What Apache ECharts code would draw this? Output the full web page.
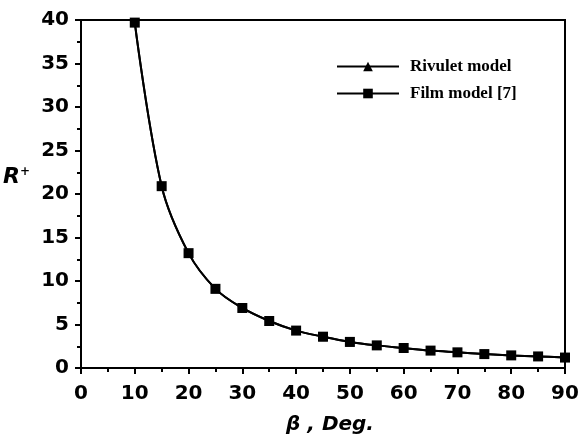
<!DOCTYPE html>
<html>
<head>
<meta charset="utf-8">
<script src="https://cdn.jsdelivr.net/npm/echarts@6/dist/echarts.min.js"></script>
<style>
  html, body { margin: 0; padding: 0; background: #fff; }
  #chart { width: 578px; height: 441px; }
</style>
</head>
<body>
<div id="chart"></div>
<script>
const beta = [10, 15, 20, 25, 30, 35, 40, 45, 50, 55, 60, 65, 70, 75, 80, 85, 90];
const rivulet = [39.7, 20.9, 13.2, 9.1, 6.9, 5.4, 4.3, 3.6, 3.0, 2.6, 2.3, 2.0, 1.8, 1.6, 1.45, 1.33, 1.2];
const film = [39.7, 20.9, 13.2, 9.1, 6.9, 5.4, 4.3, 3.6, 3.0, 2.6, 2.3, 2.0, 1.8, 1.6, 1.45, 1.33, 1.2];

const chart = echarts.init(document.getElementById('chart'));

const tickFont = {
  color: '#000',
  fontFamily: 'DejaVu Sans',
  fontWeight: 'bold',
  fontSize: 20
};

const option = {
  animation: false,
  grid: {
    left: 81, right: 13, top: 20, bottom: 73,
    outerBoundsMode: 'none', containLabel: false,
    show: true, borderColor: '#000', borderWidth: 2
  },
  legend: {
    left: 336, top: 58, orient: 'vertical', padding: 0,
    itemWidth: 62, itemHeight: 12, itemGap: 10,
    textStyle: { fontFamily: 'Liberation Serif', fontWeight: 'bold', fontSize: 17, color: '#000', padding: [0, 0, 0, 6] },
    data: ['Rivulet model', 'Film model [7]']
  },
  xAxis: {
    type: 'value', min: 0, max: 90, interval: 10,
    name: 'β , Deg.', nameLocation: 'middle', nameGap: 47,
    nameTextStyle: { color: '#000', fontFamily: 'DejaVu Sans', fontStyle: 'italic', fontWeight: 'bold', fontSize: 20, padding: [0, 0, 0, 14] },
    axisLine: { lineStyle: { color: '#000', width: 2 } },
    axisTick: { inside: false, length: 6, lineStyle: { color: '#000', width: 2 } },
    minorTick: { show: true, splitNumber: 2, length: 4, lineStyle: { color: '#000', width: 2 } },
    axisLabel: Object.assign({ margin: 16 }, tickFont),
    splitLine: { show: false }
  },
  yAxis: {
    type: 'value', min: 0, max: 40, interval: 5,
    name: '{r|R}{s|+}', nameLocation: 'middle', nameGap: 51, nameRotate: 0,
    nameTextStyle: {
      padding: [0, 0, 34, 0],
      rich: {
        r: { fontFamily: 'DejaVu Sans', fontStyle: 'italic', fontWeight: 'bold', fontSize: 22, color: '#000' },
        s: { fontFamily: 'DejaVu Sans', fontWeight: 'bold', fontSize: 12, color: '#000', verticalAlign: 'top', padding: [0, 0, 10, 0] }
      }
    },
    axisLine: { lineStyle: { color: '#000', width: 2 } },
    axisTick: { inside: false, length: 6, lineStyle: { color: '#000', width: 2 } },
    minorTick: { show: true, splitNumber: 2, length: 4, lineStyle: { color: '#000', width: 2 } },
    axisLabel: Object.assign({ margin: 12 }, tickFont),
    splitLine: { show: false }
  },
  series: [
    {
      name: 'Rivulet model', type: 'line', smooth: 0.35,
      symbol: 'triangle', symbolSize: 9,
      itemStyle: { color: '#000' },
      lineStyle: { color: '#000', width: 2 },
      data: beta.map((b, i) => [b, rivulet[i]])
    },
    {
      name: 'Film model [7]', type: 'line', smooth: 0.35,
      symbol: 'rect', symbolSize: 10,
      itemStyle: { color: '#000' },
      lineStyle: { color: '#000', width: 2 },
      data: beta.map((b, i) => [b, film[i]])
    }
  ]
};

chart.setOption(option);
</script>
</body>
</html>
